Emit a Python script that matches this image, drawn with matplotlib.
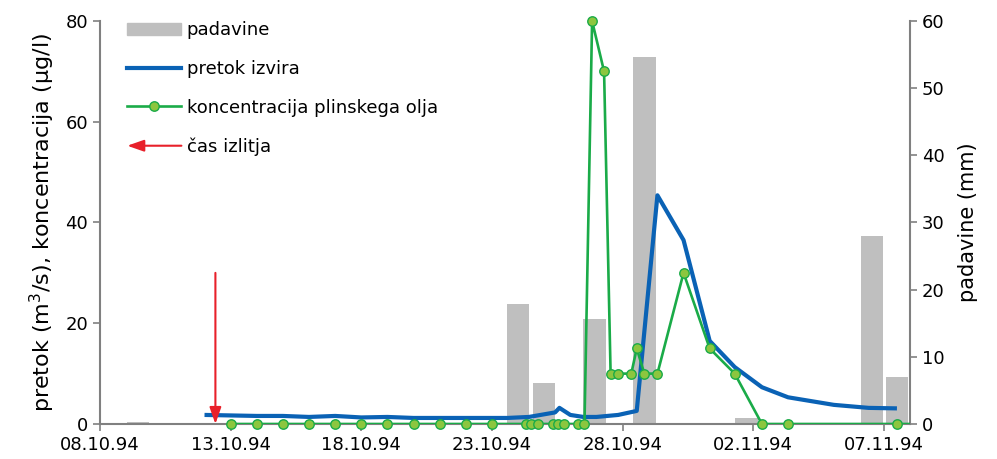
import matplotlib
matplotlib.use('Agg')
import matplotlib.pyplot as plt
import matplotlib.dates as mdates
import matplotlib.patches as mpatches
from matplotlib.lines import Line2D
from matplotlib.legend_handler import HandlerBase
import pandas as pd

plt.rcParams['font.family'] = 'DejaVu Sans'

# padavine (mm) - right axis
rain_t = ["1994-10-09 11:00", "1994-10-24 00:00", "1994-10-25 00:00", "1994-10-26 22:00",
          "1994-10-28 20:00", "1994-11-01 18:00", "1994-11-06 13:00", "1994-11-07 12:00"]
rain = [0.3, 17.8, 6.1, 15.6, 54.6, 0.9, 28.0, 7.0]

# pretok izvira (m3/s)
flow_t = ["1994-10-12 00:00", "1994-10-13 00:00", "1994-10-14 00:00", "1994-10-15 00:00",
          "1994-10-16 00:00", "1994-10-17 00:00", "1994-10-18 00:00", "1994-10-19 00:00",
          "1994-10-20 00:00", "1994-10-21 00:00", "1994-10-22 00:00", "1994-10-23 00:00",
          "1994-10-23 14:00", "1994-10-24 10:00", "1994-10-25 10:00", "1994-10-25 14:00",
          "1994-10-26 00:00", "1994-10-26 12:00", "1994-10-27 00:00", "1994-10-27 20:00",
          "1994-10-28 13:00", "1994-10-29 08:00", "1994-10-30 08:00", "1994-10-31 08:00",
          "1994-11-01 07:00", "1994-11-02 08:00", "1994-11-03 08:00", "1994-11-05 02:00",
          "1994-11-06 10:00", "1994-11-07 12:00"]
flow = [1.8, 1.7, 1.6, 1.6, 1.4, 1.6, 1.3, 1.4, 1.2, 1.2, 1.2, 1.2,
        1.2, 1.4, 2.3, 3.2, 1.8, 1.4, 1.4, 1.8, 2.6, 45.4, 36.5, 16.5,
        11.3, 7.3, 5.3, 3.8, 3.2, 3.1]

# koncentracija plinskega olja (ug/l)
conc_t = ["1994-10-13 00:00", "1994-10-14 00:00", "1994-10-15 00:00", "1994-10-16 00:00",
          "1994-10-17 00:00", "1994-10-18 00:00", "1994-10-19 00:00", "1994-10-20 00:00",
          "1994-10-21 00:00", "1994-10-22 00:00", "1994-10-23 00:00",
          "1994-10-24 07:00", "1994-10-24 12:00", "1994-10-24 18:00",
          "1994-10-25 08:00", "1994-10-25 13:00", "1994-10-25 18:00",
          "1994-10-26 07:00", "1994-10-26 13:00", "1994-10-26 20:00",
          "1994-10-27 07:00", "1994-10-27 13:00", "1994-10-27 20:00",
          "1994-10-28 08:00", "1994-10-28 13:00", "1994-10-28 20:00",
          "1994-10-29 08:00", "1994-10-30 08:00", "1994-10-31 08:00",
          "1994-11-01 07:00", "1994-11-02 08:00", "1994-11-03 08:00",
          "1994-11-07 12:00", "1994-11-08 12:00"]
conc = [0, 0, 0, 0, 0, 0, 0, 0, 0, 0, 0,
        0, 0, 0, 0, 0, 0, 0, 0, 80, 70, 10, 10, 10, 15, 10,
        10, 30, 15, 10, 0, 0, 0, 0]

spill_t = "1994-10-12 10:00"
spill_top = 30

gray = '#808080'
green = '#1aab48'
lime = '#8cc63f'
blue = '#0a62b5'
red = '#e8202a'
arrow_style = '-|>,head_length=1.0,head_width=0.35'


class ArrowHandler(HandlerBase):
    def create_artists(self, legend, orig_handle, xdescent, ydescent,
                       width, height, fontsize, trans):
        y = height / 2 - ydescent
        a = mpatches.FancyArrowPatch((-xdescent + width, y), (-xdescent, y),
                                     arrowstyle=arrow_style, mutation_scale=10,
                                     color=red, lw=1.5, shrinkA=0, shrinkB=0,
                                     transform=trans)
        return [a]


fig = plt.figure(figsize=(9.97, 4.59), dpi=100)
ax = fig.add_axes([100 / 997, 1 - 424 / 459, 810 / 997, 403 / 459])
ax2 = ax.twinx()

ax2.bar(pd.to_datetime(rain_t), rain, width=0.86, color='#bfbfbf', zorder=1)
ax.plot(pd.to_datetime(flow_t), flow, color=blue, lw=3.0, zorder=3,
        solid_joinstyle='round', solid_capstyle='butt')
ct = pd.to_datetime(conc_t)
ax.plot(ct, conc, color=green, lw=1.9, zorder=4)
# markers drawn unclipped so the zero values sit fully on the axis
ax.plot(ct[:-1], conc[:-1], ls='none', marker='o', ms=6.8, mfc=lime, mec=green,
        mew=1.0, zorder=5, clip_on=False)

sx = mdates.date2num(pd.Timestamp(spill_t))
ax.annotate('', xy=(sx, 0), xytext=(sx, spill_top),
            arrowprops=dict(arrowstyle=arrow_style, color=red, lw=1.5,
                            mutation_scale=10, shrinkA=0, shrinkB=0), zorder=6)

ax.set_zorder(ax2.get_zorder() + 1)
ax.patch.set_visible(False)

x0 = pd.Timestamp("1994-10-08")
x1 = pd.Timestamp("1994-11-08")
ax.set_xlim(x0, x1)
ax.set_ylim(0, 80)
ax2.set_ylim(0, 60)
ax.set_yticks(range(0, 81, 20))
ax2.set_yticks(range(0, 61, 10))
ax.set_xticks(pd.date_range(x0, x1, freq='5D'))
ax.xaxis.set_major_formatter(mdates.DateFormatter('%d.%m.%y'))

for a in (ax, ax2):
    a.spines['top'].set_visible(False)
    for s in ('left', 'right', 'bottom'):
        a.spines[s].set_color(gray)
        a.spines[s].set_linewidth(1.5)
    a.tick_params(colors=gray, labelcolor='black', labelsize=13, width=1.2, length=5)
ax.spines['right'].set_visible(False)
ax2.spines['left'].set_visible(False)
ax2.spines['bottom'].set_visible(False)

ax.set_ylabel('pretok (m$^3$/s), koncentracija (µg/l)', fontsize=16, labelpad=6)
ax2.set_ylabel('padavine (mm)', fontsize=15, labelpad=10)

h_rain = mpatches.Patch(color='#bfbfbf')
h_flow = Line2D([], [], color=blue, lw=3.0)
h_conc = Line2D([], [], color=green, lw=1.9, marker='o', ms=6.8,
                mfc=lime, mec=green, markevery=[1])
h_arrow = Line2D([], [])
ax.legend([h_rain, h_flow, h_conc, h_arrow],
          ['padavine', 'pretok izvira', 'koncentracija plinskega olja', 'čas izlitja'],
          handler_map={h_arrow: ArrowHandler()},
          loc='upper left', bbox_to_anchor=(111 / 997, 1 - 5 / 459),
          bbox_transform=fig.transFigure, frameon=False, fontsize=13,
          handlelength=3.0, labelspacing=1.15, handletextpad=0.3)

plt.savefig('out.png', dpi=100)
